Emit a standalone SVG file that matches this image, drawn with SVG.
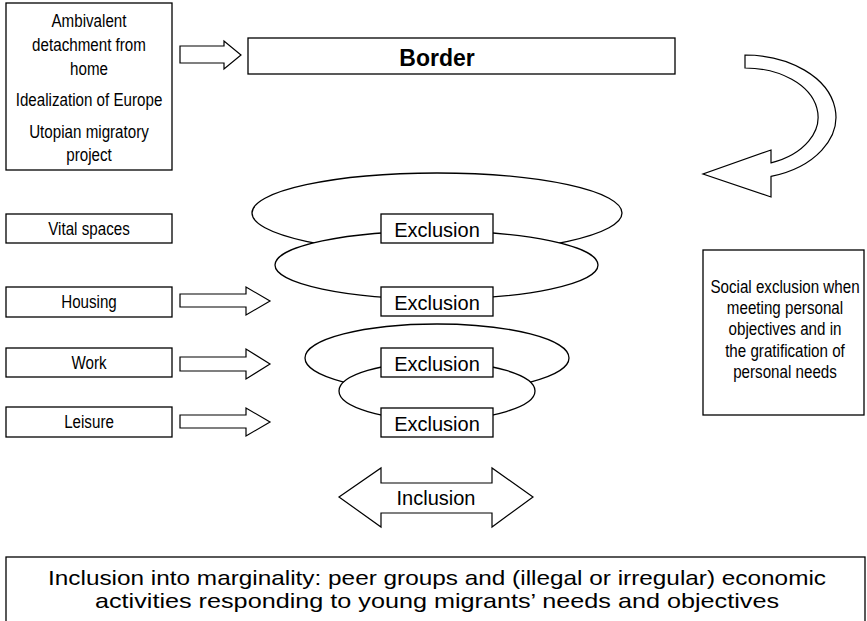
<svg xmlns="http://www.w3.org/2000/svg" width="867" height="621" viewBox="0 0 867 621">
<style>
.box{fill:#fff;stroke:#000;stroke-width:1.3}
.ell{fill:#fff;stroke:#000;stroke-width:1.3}
.arr{fill:#fff;stroke:#000;stroke-width:1.2;stroke-linejoin:miter}
.nar{font-family:"Liberation Sans",Arial,sans-serif;font-size:18.5px;fill:#000;text-anchor:middle}
.reg{font-family:"Liberation Sans",Arial,sans-serif;font-size:20px;fill:#000;text-anchor:middle}
.big{font-family:"Liberation Sans",Arial,sans-serif;font-size:21px;fill:#000;text-anchor:middle}
.bold{font-family:"Liberation Sans",Arial,sans-serif;font-size:23px;font-weight:bold;fill:#000;text-anchor:middle}
</style>
<rect width="867" height="621" fill="#fff"/>
<g id="motivations">
<rect class="box" x="6" y="3" width="166" height="167"/>
<g transform="matrix(0.82 0 0 1 16.02 0)">
<text class="nar" x="89" y="27">Ambivalent</text>
<text class="nar" x="89" y="51">detachment from</text>
<text class="nar" x="89" y="75">home</text>
<text class="nar" x="89" y="106">Idealization of Europe</text>
<text class="nar" x="89" y="138">Utopian migratory</text>
<text class="nar" x="89" y="161">project</text>
</g>
</g>
<g id="border">
<rect class="box" x="248" y="38" width="427" height="36"/>
<text class="bold" x="437" y="66">Border</text>
</g>
<g id="ellipses">
<ellipse class="ell" cx="437" cy="213" rx="185" ry="40"/>
<ellipse class="ell" cx="436.5" cy="265" rx="161.5" ry="34"/>
<ellipse class="ell" cx="437" cy="358" rx="132" ry="34"/>
<ellipse class="ell" cx="437" cy="391" rx="98" ry="29"/>
</g>
<g id="exclusion1">
<rect class="box" x="381" y="214" width="112" height="29"/>
<text class="reg" x="437" y="237">Exclusion</text>
</g>
<g id="exclusion2">
<rect class="box" x="381" y="287" width="112" height="29"/>
<text class="reg" x="437" y="310">Exclusion</text>
</g>
<g id="exclusion3">
<rect class="box" x="381" y="348" width="112" height="29"/>
<text class="reg" x="437" y="371">Exclusion</text>
</g>
<g id="exclusion4">
<rect class="box" x="381" y="408" width="112" height="29"/>
<text class="reg" x="437" y="431">Exclusion</text>
</g>
<g id="vital-spaces">
<rect class="box" x="6" y="214" width="166" height="29"/>
<text class="nar" x="89" y="235" transform="matrix(0.82 0 0 1 16.02 0)">Vital spaces</text>
</g>
<g id="housing">
<rect class="box" x="6" y="287" width="166" height="30"/>
<text class="nar" x="89" y="308" transform="matrix(0.82 0 0 1 16.02 0)">Housing</text>
</g>
<g id="work">
<rect class="box" x="6" y="348" width="166" height="29"/>
<text class="nar" x="89" y="369" transform="matrix(0.82 0 0 1 16.02 0)">Work</text>
</g>
<g id="leisure">
<rect class="box" x="6" y="407" width="166" height="30"/>
<text class="nar" x="89" y="428" transform="matrix(0.82 0 0 1 16.02 0)">Leisure</text>
</g>
<g id="social-exclusion">
<rect class="box" x="703" y="250" width="161" height="165"/>
<g transform="matrix(0.82 0 0 1 141.3 0)">
<text class="nar" x="785" y="293">Social exclusion when</text>
<text class="nar" x="785" y="314">meeting personal</text>
<text class="nar" x="785" y="335">objectives and in</text>
<text class="nar" x="785" y="357">the gratification of</text>
<text class="nar" x="785" y="378">personal needs</text>
</g>
</g>
<g id="inclusion">
<path class="arr" d="M339,497 L381,468 L381,483 L492,483 L492,468 L533,497 L492,527 L492,513 L381,513 L381,527 Z"/>
<text class="reg" x="436" y="505">Inclusion</text>
</g>
<g id="marginality">
<rect class="box" x="6" y="557" width="859" height="70"/>
<text class="big" x="437" y="585" textLength="778" lengthAdjust="spacingAndGlyphs">Inclusion into marginality: peer groups and (illegal or irregular) economic</text>
<text class="big" x="437" y="608" textLength="684" lengthAdjust="spacingAndGlyphs">activities responding to young migrants’ needs and objectives</text>
</g>
<g id="connectors">
<path class="arr" d="M180,46 L224,46 L224,41 L241,55 L224,69 L224,63 L180,63 Z"/>
<path class="arr" d="M180,294 L246,294 L246,287 L270,301 L246,315 L246,307 L180,307 Z"/>
<path class="arr" d="M180,357 L246,357 L246,349 L270,364 L246,379 L246,371 L180,371 Z"/>
<path class="arr" d="M180,415 L246,415 L246,408 L270,422 L246,436 L246,428 L180,428 Z"/>
<path class="arr" d="M745,55 A91,62 0 0 1 771,176.4 L771,197 L703,174 L771,150 L771,162.8 A73,49 0 0 0 745,68 Z"/>
</g>
</svg>
